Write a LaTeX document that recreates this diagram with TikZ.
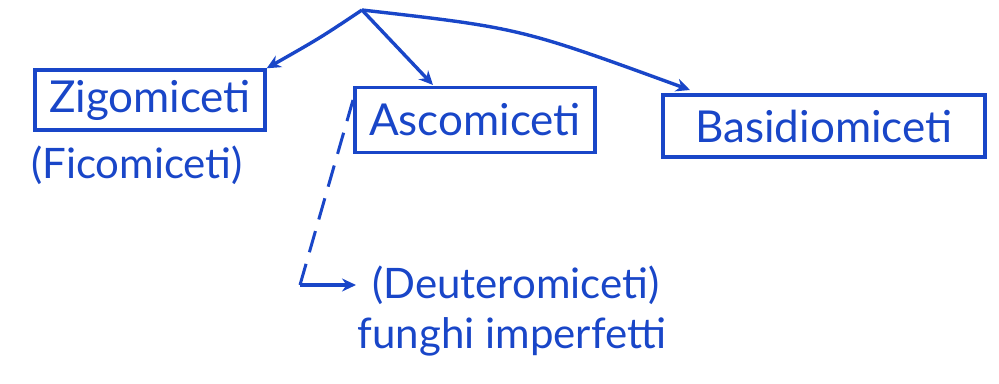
\documentclass[tikz,border=0pt]{standalone}
\usepackage{fontspec}
\setmainfont{Lato}
\usetikzlibrary{arrows.meta}
\definecolor{ink}{RGB}{25,70,200}
\tikzset{
  box/.style={draw=ink, line width=3.4pt, text=ink, font=\fontsize{44}{46}\selectfont, inner sep=0pt, anchor=center},
  lbl/.style={text=ink, font=\fontsize{42}{46}\selectfont, inner sep=0pt},
  link/.style={draw=ink, line width=3.4pt, -{Stealth[length=14pt,width=13pt]}},
  dseg/.style={draw=ink, line width=3pt, dash pattern=on 22pt off 12.1pt}
}
\begin{document}
\begin{tikzpicture}[x=1pt,y=-1pt]
\useasboundingbox (0,0) rectangle (999,383);
\node[box, minimum width=230pt, minimum height=60pt] (zigo) at (150,100) {Zigomiceti};
\node[lbl] (fico) at (137,165) {(Ficomiceti)};
\node[box, minimum width=240pt, minimum height=65pt] (asco) at (475,120) {Ascomiceti};
\node[box, minimum width=322pt, minimum height=62pt] (basi) at (824,126) {Basidiomiceti};
\node[lbl, anchor=west] (deut) at (372,285) {(Deuteromiceti)};
\node[lbl] (imp) at (512,337) {funghi imperfetti};
\coordinate (apex) at (362,10);
\coordinate (dstart) at (353,100);
\coordinate (dcorner) at ([xshift=-72pt]deut.west);
\coordinate (dend) at ([xshift=-16pt]deut.west);
\draw[link] (apex) .. controls (320,38) .. (zigo.north east);
\draw[link] (apex) -- (433,85);
\draw[link] (apex) .. controls (520,28) .. (690,90);
\draw[dseg] (dcorner) -- (dstart);
\draw[link] (dcorner) -- (dend);
\end{tikzpicture}
\end{document}
